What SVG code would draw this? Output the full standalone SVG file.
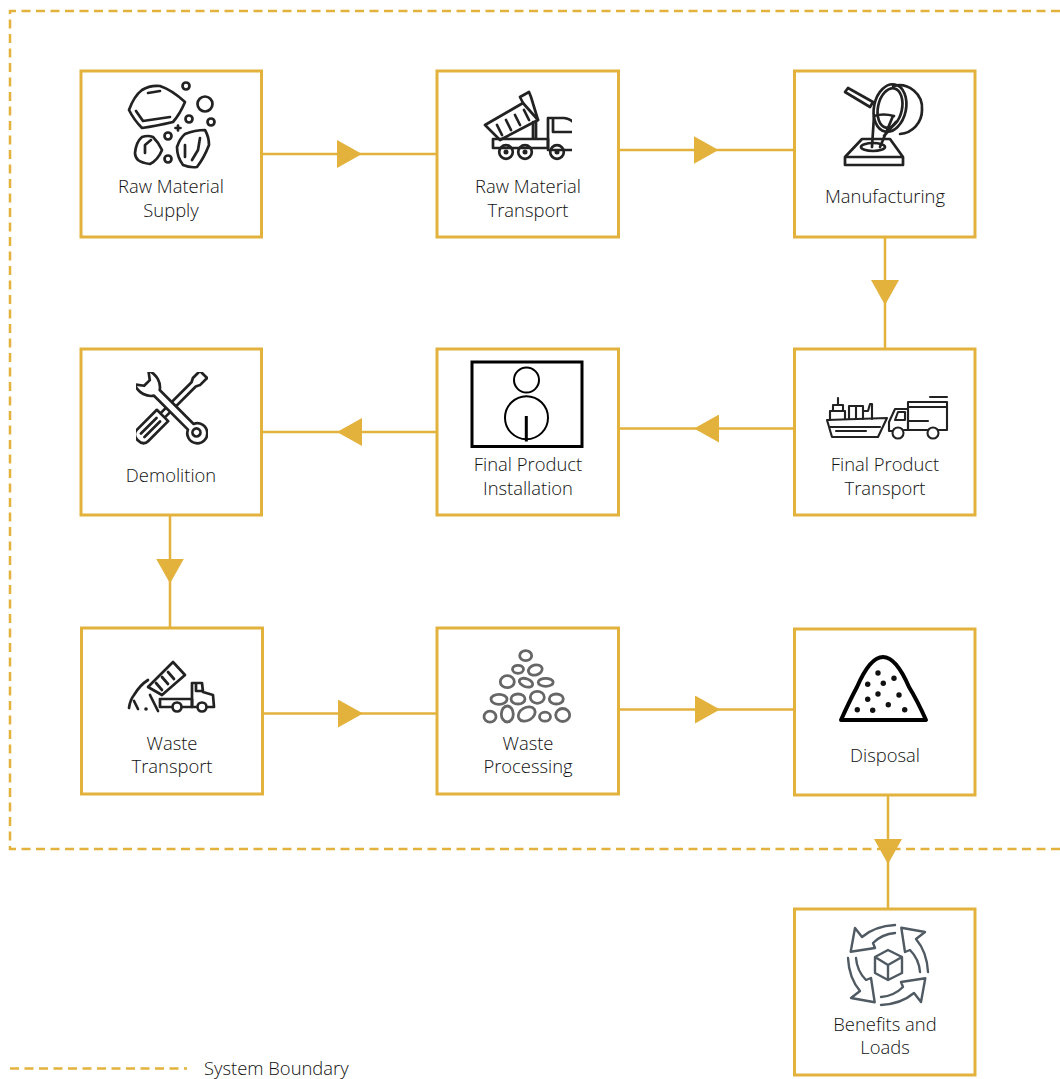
<svg xmlns="http://www.w3.org/2000/svg" xmlns:xlink="http://www.w3.org/1999/xlink" width="1060" height="1079" viewBox="0 0 1060 1079">
<style>
.box{fill:#fff;stroke:#e3b23c;stroke-width:3}
.dash{fill:none;stroke:#e3b23c;stroke-width:2.5;stroke-dasharray:9 5.5}
.conn{fill:none;stroke:#e3b23c;stroke-width:2.5;marker-mid:url(#tri)}
.t{font-family:"Open Sans","Noto Sans",sans-serif;font-weight:300;font-size:18.4px;fill:#111;text-anchor:middle}
.ic{fill:none;stroke:#222;stroke-width:2.7;stroke-linejoin:round;stroke-linecap:round;filter:url(#soft)}
.fd{fill:#222;stroke:none}
</style>
<defs>
<marker id="tri" markerUnits="userSpaceOnUse" markerWidth="25" markerHeight="28" refX="25" refY="14" orient="auto"><path d="M0 0L25 14L0 28Z" fill="#e3b23c"/></marker>
<filter id="soft" x="-10%" y="-10%" width="120%" height="120%"><feGaussianBlur stdDeviation="0.5"/></filter>
<path id="cyc" d="M895 925Q875 926 862 937L855 928L850.700 951.700L875 948L873 943Q882 934 895 933"/>
<clipPath id="c1"><rect x="125" y="78" width="91" height="92"/></clipPath>
<clipPath id="c2"><rect x="480" y="88" width="92" height="74"/></clipPath>
<clipPath id="c6"><rect x="136" y="372" width="72" height="74"/></clipPath>
</defs>
<rect width="1060" height="1079" fill="#fff"/>
<g id="boundary"><path class="dash" d="M1060 11H10V849H1060"/></g>
<g id="connectors">
<polyline class="conn" points="262,154 362,154 437,154"/>
<polyline class="conn" points="619,150 718.500,150 794,150"/>
<polyline class="conn" points="885,237 885,305 885,349"/>
<polyline class="conn" points="794,428.500 694,428.500 619,428.500"/>
<polyline class="conn" points="437,432 337,432 262,432"/>
<polyline class="conn" points="170,516 170,583.500 170,628"/>
<polyline class="conn" points="263,713.500 363,713.500 437,713.500"/>
<polyline class="conn" points="619,709.500 720,709.500 794,709.500"/>
<polyline class="conn" points="888,795 888,864 888,909"/>
</g>
<g id="n-raw-supply">
<rect class="box" x="81" y="71" width="180.500" height="166"/>
<g class="ic" clip-path="url(#c1)">
<path d="M129 110Q134 96 142 90Q150 85 160 86Q172 90 185 102Q180 114 173 122Q156 126 142 128Q134 120 129 110Z"/>
<path d="M148 93L160 91M136 111L143 121L170 117"/>
<circle cx="186" cy="86" r="3.500"/><circle cx="205" cy="104" r="7.500"/><circle cx="189" cy="119" r="3.500"/><circle cx="211" cy="122" r="3.500"/><circle cx="168" cy="136" r="3.500"/><circle cx="168" cy="159" r="3.500"/>
<path d="M178 125.500V130.500M175.500 128H180.500"/>
<path d="M135 153Q136 142 142 137Q148 135 153 137Q159 143 162 150Q158 160 150 164Q142 163 138 160Q135 157 135 153Z"/><path d="M145 153L145 145L151 140"/>
<path d="M177 147Q180 138 185 134Q195 130 205 130Q209 137 209 145Q204 158 197 167Q190 168 183 165Q177 157 177 147Z"/><path d="M185 145V157M200 138L198 150L192 160"/>
</g>
<text class="t" x="171" y="193">Raw Material</text><text class="t" x="171" y="217">Supply</text>
</g>
<g id="n-raw-transport">
<rect class="box" x="437" y="71" width="181.500" height="166"/>
<g class="ic" clip-path="url(#c2)">
<path d="M485 125L523 103L538 120L500 140Z"/><path d="M520 97L529 92L531 97L538 120M520 97L523 103"/>
<path d="M497 125L502 135M506 120L511 130M515 115L520 125M524 110L529 120"/>
<path d="M533 122V138M536 122V138"/>
<path d="M493 139H548V148H493Z"/><path d="M548 148V118H564Q572 119 575 125V150H548M553 118V132H575"/>
<circle cx="506" cy="152" r="6.800"/><circle cx="525" cy="152" r="6.800"/><circle cx="557" cy="152" r="6.800"/>
<circle class="fd" cx="506" cy="152" r="2.500"/><circle class="fd" cx="525" cy="152" r="2.500"/><circle class="fd" cx="557" cy="152" r="2.500"/>
</g>
<text class="t" x="528" y="193">Raw Material</text><text class="t" x="528" y="217">Transport</text>
</g>
<g id="n-manufacturing">
<rect class="box" x="794.500" y="71" width="180.500" height="166"/>
<g class="ic">
<path d="M845 92L848 88L873 102L870 107Z"/>
<path d="M893 86A23 23 0 0 1 922 110A24 24 0 0 1 900 134"/>
<ellipse cx="890" cy="108" rx="16" ry="24" transform="rotate(12 890 108)"/><ellipse cx="890" cy="108" rx="12" ry="20" transform="rotate(12 890 108)"/>
<path d="M874 116L872 147M893 116L880 147M874 116Q883 113 894 116M896 122L884 136"/>
<path d="M845 157L862 139H890L903 157V165H845ZM845 157H903"/>
<ellipse cx="873" cy="147" rx="12" ry="4"/>
</g>
<text class="t" x="885" y="203">Manufacturing</text>
</g>
<g id="n-final-transport">
<rect class="box" x="794.500" y="349" width="180.500" height="166"/>
<g class="ic" style="stroke-width:2.100">
<path d="M827 420L887 418L878 437H832Z"/><path d="M830 427H880M836 431H866"/>
<path d="M830 420V411H845V419M833 411V405H843V411M838 405V398"/>
<path d="M849 419V406H863V419M856 406V419M863 411H868L870 404H872V419"/>
<path d="M908 402H947V430H938M928 430H908V402"/><path d="M908 407H947M930 397H947M908 421H928"/>
<path d="M889 431V422L895 409H908V430H904M892 431H889M895 420H905V412H898Z"/>
<circle cx="898" cy="433" r="5.500"/><circle cx="933" cy="433" r="5.500"/>
</g>
<text class="t" x="885" y="470.500">Final Product</text><text class="t" x="885" y="495">Transport</text>
</g>
<g id="n-installation">
<rect class="box" x="437" y="349" width="181.500" height="166"/>
<rect x="472" y="362" width="110" height="84.500" fill="#fff" stroke="#000" stroke-width="3"/>
<circle cx="526.500" cy="380" r="12.500" fill="none" stroke="#000" stroke-width="2"/>
<circle cx="526.500" cy="417.700" r="21.500" fill="none" stroke="#000" stroke-width="2"/>
<path d="M526.300 416V441.500" stroke="#000" stroke-width="3"/>
<text class="t" x="528" y="470.500">Final Product</text><text class="t" x="528" y="495">Installation</text>
</g>
<g id="n-demolition">
<rect class="box" x="81" y="349" width="180.500" height="166"/>
<g clip-path="url(#c6)"><g class="ic">
<g transform="rotate(-45 171 407)"><path transform="translate(171 407)" d="M-40 -8H-12V8H-40Q-47 8 -47 0Q-47 -8 -40 -8ZM-12 -3H32L36 -5H46V5H36L32 3H-12M-40 -2.500H-18M-40 2.500H-18" style="fill:#fff"/></g>
<g transform="rotate(45 171 407)"><path transform="translate(171 407)" d="M28 -4H-20C-24 -10 -32 -13 -42 -10L-34 -4V4L-42 10C-32 13 -24 10 -20 4H28A10 10 0 1 0 28 -4Z" style="fill:#fff"/><circle cx="207" cy="407" r="4"/></g>
</g></g>
<text class="t" x="171" y="482">Demolition</text>
</g>
<g id="n-waste-transport">
<rect class="box" x="81.500" y="628" width="181" height="166"/>
<g class="ic">
<path d="M148 687L173 662L185 675L162 695Z"/><path d="M156 683L162 690M162 677L168 684M168 672L174 679"/>
<path d="M160 699H192V707H183M171 707H160V699"/>
<path d="M192 707V683H202L203 692L213 695L214 707H208M196 707H192M196 684V691H203"/>
<circle cx="177" cy="707" r="4.500"/><circle cx="202" cy="707" r="4.500"/>
<path d="M129 708Q130 700 134 695Q140 685 148 680M150 695L158 711M134 701L138 709"/>
<circle class="fd" cx="146" cy="709" r="1.800"/>
</g>
<text class="t" x="172" y="750">Waste</text><text class="t" x="172" y="773">Transport</text>
</g>
<g id="n-waste-processing">
<rect class="box" x="437" y="628" width="181.500" height="166"/>
<g class="ic" style="stroke:#666;stroke-width:2.800">
<ellipse cx="525.700" cy="655.700" rx="6" ry="5"/><ellipse cx="518" cy="669.300" rx="5.500" ry="4"/><ellipse cx="535.300" cy="670" rx="7" ry="5" transform="rotate(-15 535.300 670)"/>
<ellipse cx="507.300" cy="681.700" rx="7" ry="6"/><ellipse cx="526" cy="682.700" rx="7" ry="4" transform="rotate(20 526 682.700)"/><ellipse cx="545.700" cy="682.300" rx="7.500" ry="4"/>
<ellipse cx="499" cy="699.300" rx="8" ry="5"/><ellipse cx="518" cy="699" rx="7" ry="5"/><ellipse cx="537.300" cy="697.300" rx="7" ry="6"/><ellipse cx="556.300" cy="699" rx="7" ry="5"/>
<ellipse cx="490" cy="716.700" rx="6" ry="5.500"/><ellipse cx="507.300" cy="714" rx="6" ry="8"/><ellipse cx="526.700" cy="714" rx="9" ry="6.500" transform="rotate(-30 526.700 714)"/><ellipse cx="545" cy="716.700" rx="5.500" ry="4.500"/><ellipse cx="562.700" cy="715" rx="7" ry="6.500"/>
</g>
<text class="t" x="528" y="750">Waste</text><text class="t" x="528" y="773">Processing</text>
</g>
<g id="n-disposal">
<rect class="box" x="794.500" y="629" width="180.500" height="166"/>
<g class="ic" style="stroke:#000;stroke-width:4">
<path d="M841 720Q850 700 857 687Q870 657 883 657Q896 657 909 687Q917 700 926 720Z"/>
</g>
<g class="fd" style="fill:#111">
<circle cx="878" cy="673" r="2.700"/><circle cx="894" cy="678.300" r="2.700"/><circle cx="867.700" cy="684.300" r="2.700"/><circle cx="883.300" cy="683.300" r="2.700"/><circle cx="878" cy="694" r="2.700"/><circle cx="899" cy="695" r="2.700"/><circle cx="867.700" cy="699.300" r="2.700"/><circle cx="888.300" cy="704.700" r="2.700"/><circle cx="857.300" cy="709.700" r="2.700"/><circle cx="872.700" cy="710.300" r="2.700"/><circle cx="904.700" cy="709.700" r="2.700"/>
</g>
<text class="t" x="885" y="762">Disposal</text>
</g>
<g id="n-benefits">
<rect class="box" x="794.500" y="909" width="180.500" height="166"/>
<g class="ic" style="stroke:#4f5a62;stroke-width:2.400">
<path d="M888 950L902 957V973L888 980L875 973V957ZM875 957L888 965L902 957M888 965V980"/>
<use xlink:href="#cyc"/><use xlink:href="#cyc" transform="rotate(90 888 965)"/><use xlink:href="#cyc" transform="rotate(180 888 965)"/><use xlink:href="#cyc" transform="rotate(270 888 965)"/>
</g>
<text class="t" x="885" y="1031">Benefits and</text><text class="t" x="885" y="1054">Loads</text>
</g>
<g id="legend">
<path class="dash" d="M10 1068.500H187"/>
<text class="t" x="204" y="1075" style="text-anchor:start">System Boundary</text>
</g>
</svg>
